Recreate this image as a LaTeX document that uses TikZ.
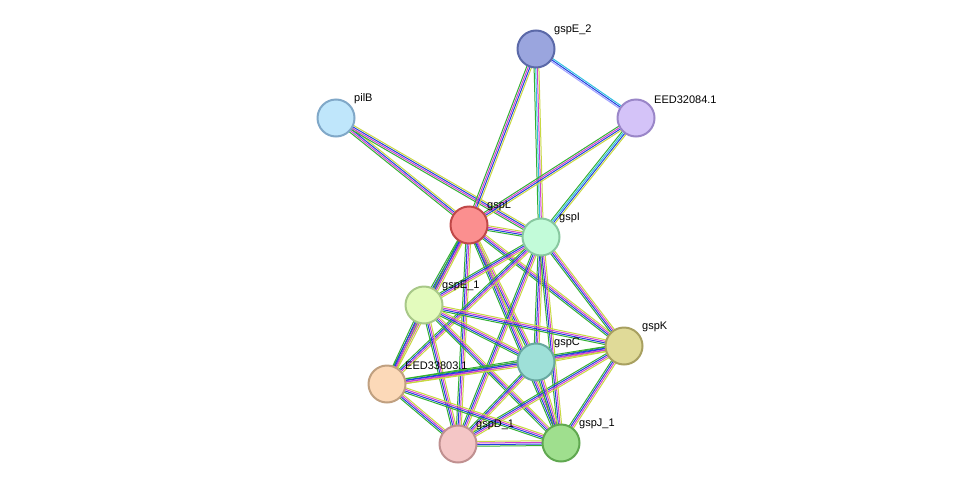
\documentclass[tikz,border=0pt]{standalone}
\usepackage{fontspec}
\setmainfont{Liberation Sans}
\usetikzlibrary{calc}
\definecolor{eg}{HTML}{33B033}
\definecolor{eb}{HTML}{2040E0}
\definecolor{em}{HTML}{D040D0}
\definecolor{ey}{HTML}{C8D840}
\definecolor{ec}{HTML}{30C0E0}
\definecolor{ep}{HTML}{A0A0FF}
\newcommand{\sedge}[4]{%
  \foreach \c [count=\i] in {#4} {%
    \pgfmathsetmacro\o{(\i-(#3+1)/2)*1.6}%
    \draw[draw=\c,line width=1pt] ($(#1)!\o pt!90:(#2)$) -- ($(#2)!\o pt!-90:(#1)$);
  }}
\tikzset{prot/.style={circle,minimum size=37pt,inner sep=0pt,line width=2pt},
 lab/.style={anchor=south west,font=\fontsize{11}{12}\selectfont,inner sep=1pt}}
\begin{document}
\begin{tikzpicture}[x=1pt,y=-1pt]
\useasboundingbox (0,0) rectangle (976,490);
\coordinate (gspE2) at (536,49);
\coordinate (EED1) at (636,118);
\coordinate (pilB) at (336,118);
\coordinate (gspL) at (469,225);
\coordinate (gspI) at (541,237);
\coordinate (gspE1) at (424,305);
\coordinate (gspK) at (624,346);
\coordinate (gspC) at (536,362);
\coordinate (EED3) at (387,384);
\coordinate (gspD) at (458,444);
\coordinate (gspJ) at (561,443);
\sedge{pilB}{gspL}{4}{eg,em,eb,ey}
\sedge{pilB}{gspI}{4}{eg,em,eb,ey}
\sedge{gspE2}{gspL}{4}{eg,em,eb,ey}
\sedge{gspE2}{gspI}{4}{eg,ec,em,ey}
\sedge{gspE2}{EED1}{3}{ep,eb,ec}
\sedge{EED1}{gspL}{4}{eg,em,eb,ey}
\sedge{EED1}{gspI}{4}{eg,ec,eb,ey}
\foreach \a/\b in {gspL/gspI,gspL/gspE1,gspL/gspK,gspL/gspC,gspL/EED3,gspL/gspD,gspL/gspJ,
 gspI/gspE1,gspI/gspK,gspI/gspC,gspI/EED3,gspI/gspD,gspI/gspJ,
 gspE1/gspK,gspE1/gspC,gspE1/EED3,gspE1/gspD,gspE1/gspJ,
 gspK/gspC,gspK/EED3,gspK/gspD,gspK/gspJ,
 gspC/EED3,gspC/gspD,gspC/gspJ,EED3/gspD,EED3/gspJ,gspD/gspJ}
 {\sedge{\a}{\b}{4}{eg,eb,em,ey}}
\foreach \n/\f/\d/\t in {gspE2/9AA5DE/5B69A8/gspE\_2, EED1/D4C3F8/9A86C8/EED32084.1,
 pilB/BFE6FB/80A8C8/pilB, gspL/FB8F8F/C04848/gspL, gspI/C2FBD9/88C8A0/gspI,
 gspE1/E3FBBD/A8C888/gspE\_1, gspK/E0DA98/A8A060/gspK, gspC/9EE0D8/68A8A0/gspC,
 EED3/FCD9B8/C0A080/EED33803.1, gspD/F4C6C6/C09090/gspD\_1, gspJ/9FDF8E/60A850/gspJ\_1}
{\definecolor{ff}{HTML}{\f}\definecolor{dd}{HTML}{\d}
 \node[prot,fill=ff,draw=dd] (n\n) at (\n) {};
 \node[lab] (l\n) at ($(\n)+(17,-13)$) {\t};}
\end{tikzpicture}
\end{document}
